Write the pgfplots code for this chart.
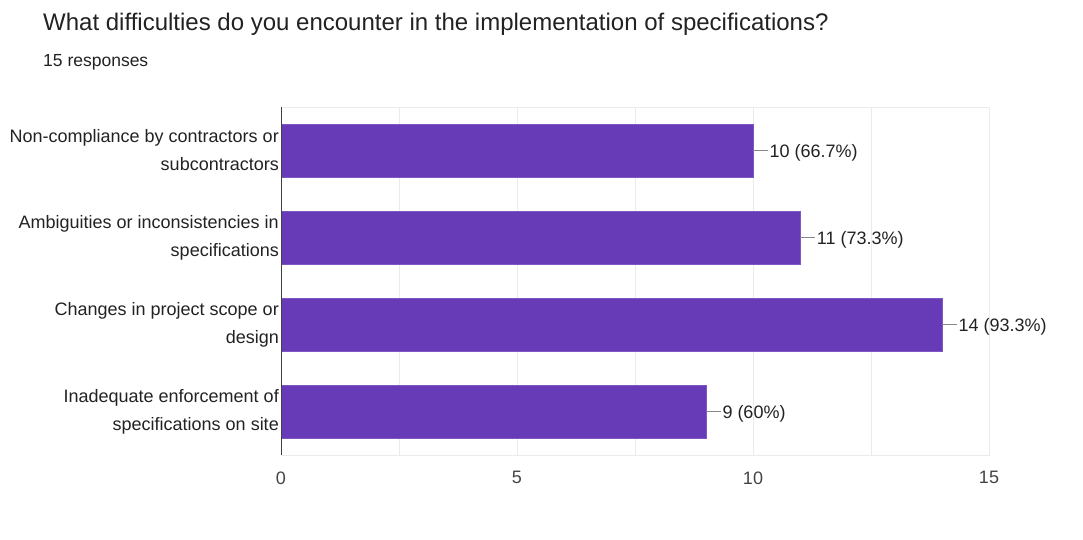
\documentclass[border=0pt]{standalone}
\usepackage{fontspec}
\setmainfont{Liberation Sans}
\usepackage{pgfplots}
\pgfplotsset{compat=1.18}
\definecolor{barpurple}{HTML}{673AB7}
\definecolor{gridgray}{HTML}{EBEBEB}
\definecolor{txt}{HTML}{222222}
\definecolor{ticktxt}{HTML}{444444}
\definecolor{leadgray}{HTML}{888888}
\begin{document}
\begin{tikzpicture}[x=1pt,y=1pt]
\useasboundingbox (0,0) rectangle (1083,539);
\node[anchor=base west, font=\fontsize{24}{28}\selectfont, text=txt, inner sep=0] at (43,508) {What difficulties do you encounter in the implementation of specifications?};
\node[anchor=base west, font=\fontsize{17.5}{20}\selectfont, text=txt, inner sep=0] at (43,472.5) {15 responses};
\begin{axis}[
  at={(281pt,84pt)}, anchor=south west,
  width=708pt, height=348pt, scale only axis,
  xbar, xmin=0, xmax=15, ymin=-0.5, ymax=3.5, y dir=reverse,
  bar width=53pt,
  xtick={0,5,10,15}, minor xtick={2.5,7.5,12.5},
  xmajorgrids, xminorgrids,
  major grid style={gridgray, line width=1pt},
  minor grid style={gridgray, line width=1pt},
  major tick length=0pt, minor tick length=0pt,
  axis line style={gridgray, line width=1pt},
  /pgf/number format/assume math mode=true,
  ytick={0,1,2,3},
  yticklabels={{Non-compliance by contractors or\\subcontractors},{Ambiguities or inconsistencies in\\specifications},{Changes in project scope or\\design},{Inadequate enforcement of\\specifications on site}},
  yticklabel style={align=right, font=\fontsize{18}{28}\selectfont, text=txt, inner sep=2pt},
  xticklabel style={font=\fontsize{18}{21}\selectfont, text=ticktxt, yshift=-13pt},
  point meta=explicit symbolic,
  nodes near coords,
  nodes near coords align={horizontal},
  every node near coord/.append style={anchor=west, inner sep=0pt, yshift=-2pt, font=\fontsize{18}{21}\selectfont, text=txt},
  nodes near coords={\textcolor{leadgray}{\rule[0.33em]{15pt}{0.9pt}}\hspace{1.5pt}\pgfplotspointmeta},
]
\addplot[fill=barpurple, draw=barpurple!85!white] coordinates {
  (10,0) [10 (66.7\%)]
  (11,1) [11 (73.3\%)]
  (14,2) [14 (93.3\%)]
  (9,3) [9 (60\%)]
};
\draw[black!75, line width=1.3pt] (axis cs:0,-0.5) -- (axis cs:0,3.5);
\end{axis}
\end{tikzpicture}
\end{document}
